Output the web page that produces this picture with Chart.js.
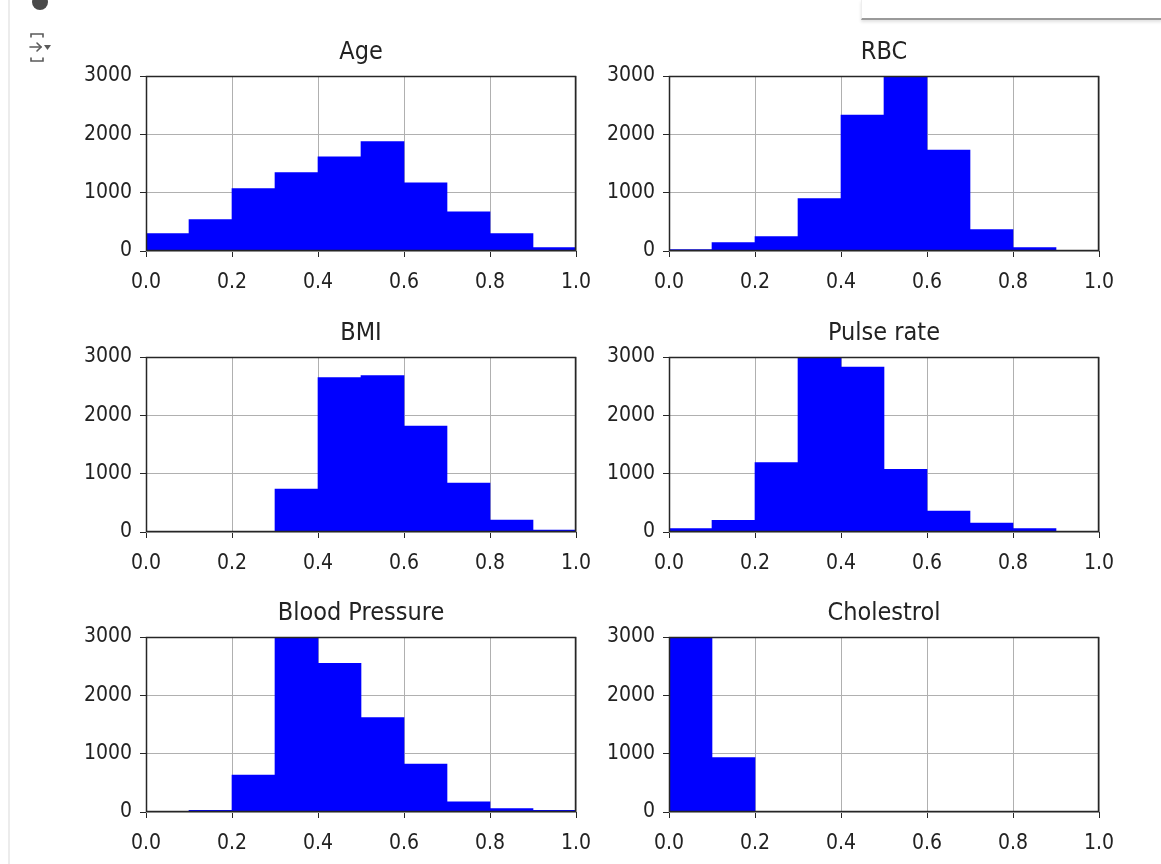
<!DOCTYPE html>
<html>
<head>
<meta charset="utf-8">
<title>Feature histograms</title>
<script src="https://cdn.jsdelivr.net/npm/chart.js@4/dist/chart.umd.min.js"></script>
<style>
  html, body { margin: 0; padding: 0; background: #ffffff; }
  body { width: 1161px; height: 864px; position: relative; overflow: hidden; }
  .panel { position: absolute; }
  .panel canvas { display: block; }
  .gutter { position: absolute; left: 8px; top: 0; width: 2px; height: 864px; background: #ececec; }
  .dot { position: absolute; left: 32px; top: -6px; width: 16px; height: 16px; border-radius: 50%; background: #4a4a4a; filter: blur(0.6px); }
  .output-bar { position: absolute; left: 861px; top: 0; width: 300px; height: 18px;
                border-left: 1px solid #eeeeee; border-bottom: 2px solid #9a9a9a;
                box-shadow: 0 2px 3px rgba(0,0,0,0.12); }
  .icon { position: absolute; left: 26px; top: 31px; }
</style>
</head>
<body>
<div class="gutter"></div>
<div class="dot"></div>
<div class="output-bar"></div>
<svg class="icon" width="28" height="34" viewBox="0 0 28 34">
  <g stroke="#5a5a5a" stroke-width="1.6" fill="none" stroke-linecap="round">
    <path d="M5 6 V3 H17 V6"/>
    <path d="M5 27 V30 H17 V27"/>
    <path d="M4 16 H15"/>
    <path d="M11 12 L15 16 L11 20"/>
  </g>
  <path d="M18 14 H25 L21.5 19 Z" fill="#5a5a5a"/>
</svg>

<script>
// Histogram bins: lower edge of each 0.1-wide bin on the normalised scale
const binStarts = [0.0, 0.1, 0.2, 0.3, 0.4, 0.5, 0.6, 0.7, 0.8, 0.9];
const binWidth = 0.1;

// Counts per bin for each feature
const ageCounts         = [298, 538, 1070, 1345, 1614, 1877, 1168, 670, 298, 57];
const rbcCounts         = [25, 143, 246, 899, 2330, 3135, 1729, 366, 57, 5];
const bmiCounts         = [0, 0, 0, 737, 2646, 2680, 1817, 840, 206, 34];
const pulseRateCounts   = [57, 200, 1189, 3025, 2829, 1074, 360, 154, 57, 5];
const bloodPressCounts  = [0, 29, 633, 3037, 2550, 1618, 823, 173, 58, 29];
const cholestrolCounts  = [8015, 935, 0, 0, 0, 0, 0, 0, 0, 0];

// Axis ticks
const xTicks = [0.0, 0.2, 0.4, 0.6, 0.8, 1.0];
const yTicks = [0, 1000, 2000, 3000];

const panels = [
  { title: 'Age',            counts: ageCounts,        left: 146, top: 76  },
  { title: 'RBC',            counts: rbcCounts,        left: 669, top: 76  },
  { title: 'BMI',            counts: bmiCounts,        left: 146, top: 357 },
  { title: 'Pulse rate',     counts: pulseRateCounts,  left: 669, top: 357 },
  { title: 'Blood Pressure', counts: bloodPressCounts, left: 146, top: 637 },
  { title: 'Cholestrol',     counts: cholestrolCounts, left: 669, top: 637 }
];

// Panel geometry: plot area plus the margins reserved around it
const PLOT_W = 430, PLOT_H = 175;
const Y_AXIS_W = 80, RIGHT_PAD = 30, TITLE_H = 40, X_AXIS_H = 45;

const FONT = "'DejaVu Sans Condensed', 'DejaVu Sans', sans-serif";
const TEXT = '#222222';

// Draws the four-sided frame around the plot area
const framePlugin = {
  id: 'frame',
  afterDraw(chart) {
    const a = chart.chartArea;
    const ctx = chart.ctx;
    ctx.save();
    ctx.strokeStyle = '#262626';
    ctx.lineWidth = 1.5;
    ctx.strokeRect(Math.round(a.left) + 0.5, Math.round(a.top) + 0.5,
                   Math.round(a.right - a.left) - 1, Math.round(a.bottom - a.top) - 1);
    ctx.restore();
  }
};

panels.forEach(p => {
  const holder = document.createElement('div');
  holder.className = 'panel';
  holder.style.left = (p.left - Y_AXIS_W) + 'px';
  holder.style.top = (p.top - TITLE_H) + 'px';
  const canvas = document.createElement('canvas');
  canvas.width = Y_AXIS_W + PLOT_W + RIGHT_PAD;
  canvas.height = TITLE_H + PLOT_H + X_AXIS_H;
  holder.appendChild(canvas);
  document.body.appendChild(holder);

  new Chart(canvas, {
    type: 'bar',
    data: {
      datasets: [{
        data: binStarts.map((s, i) => ({ x: s + binWidth / 2, y: p.counts[i] })),
        backgroundColor: '#0000ff',
        borderWidth: 0,
        barPercentage: 1.0,
        categoryPercentage: 1.0
      }]
    },
    options: {
      responsive: false,
      animation: false,
      events: [],
      layout: { padding: { left: 0, top: 0, right: RIGHT_PAD, bottom: 0 } },
      plugins: {
        legend: { display: false },
        tooltip: { enabled: false },
        title: {
          display: true,
          fullSize: false,
          text: p.title,
          color: TEXT,
          font: { family: FONT, size: 25, weight: 'normal', lineHeight: 1.2 },
          padding: { top: 1, bottom: 9 }
        }
      },
      scales: {
        x: {
          type: 'linear',
          min: 0, max: 1,
          offset: false,
          z: 1,
          afterBuildTicks(scale) { scale.ticks = xTicks.map(v => ({ value: v })); },
          afterFit(scale) { scale.height = X_AXIS_H; },
          ticks: {
            color: TEXT,
            font: { family: FONT, size: 21 },
            padding: 13,
            maxRotation: 0,
            autoSkip: false,
            callback: v => Number(v).toFixed(1)
          },
          grid: { color: '#b0b0b0', lineWidth: 1, tickColor: '#262626', tickLength: 6, offset: false },
          border: { display: false }
        },
        y: {
          min: 0, max: 3000,
          z: 1,
          afterBuildTicks(scale) { scale.ticks = yTicks.map(v => ({ value: v })); },
          afterFit(scale) { scale.width = Y_AXIS_W; },
          ticks: {
            color: TEXT,
            font: { family: FONT, size: 21 },
            padding: 8,
            autoSkip: false,
            callback: v => String(v)
          },
          grid: { color: '#b0b0b0', lineWidth: 1, tickColor: '#262626', tickLength: 6 },
          border: { display: false }
        }
      }
    },
    plugins: [framePlugin]
  });
});
</script>
</body>
</html>
